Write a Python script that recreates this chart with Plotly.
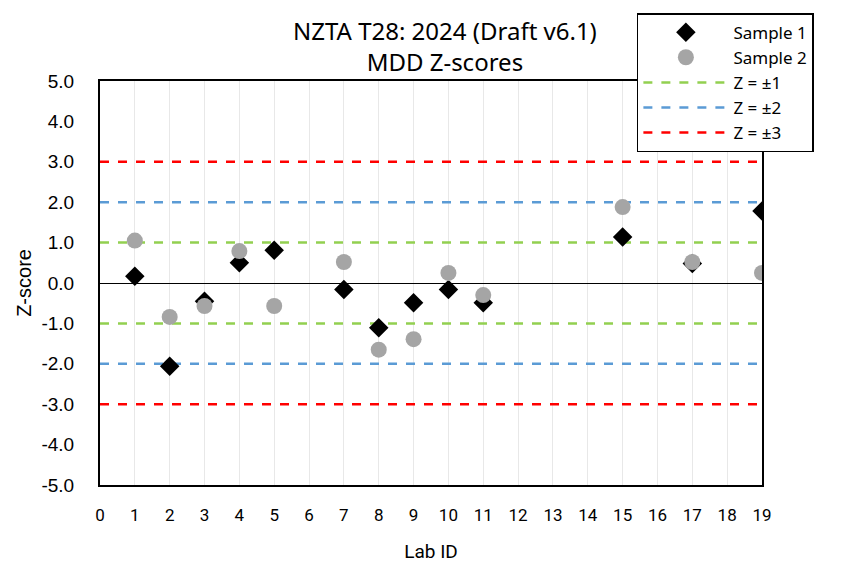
import plotly.graph_objects as go

lab_ids = [1, 2, 3, 4, 5, 7, 8, 9, 10, 11, 15, 17, 19]
sample1 = [0.17, -2.06, -0.45, 0.50, 0.81, -0.16, -1.11, -0.49, -0.16, -0.49, 1.14, 0.48, 1.78]
sample2 = [1.05, -0.84, -0.57, 0.79, -0.57, 0.52, -1.65, -1.39, 0.25, -0.30, 1.88, 0.52, 0.25]
limit_x = [0, 19]
z_levels = [1, 2, 3]
z_colors = ["#92D050", "#5B9BD5", "#FF0000"]
x_ticks = list(range(0, 20))
y_ticks = [-5, -4, -3, -2, -1, 0, 1, 2, 3, 4, 5]
y_ticktext = [f"{v:.1f}" for v in y_ticks]  # plain hyphen minus as in reference

fig = go.Figure()
for z, c in zip(z_levels, z_colors):
    for sgn in (1, -1):
        fig.add_trace(go.Scatter(x=limit_x, y=[sgn * z] * 2, mode="lines",
                                 name=f"Z = ±{z}", legendgroup=f"z{z}",
                                 showlegend=(sgn == 1), legendrank=2 + z,
                                 line=dict(color=c, width=2.5, dash="dash")))
fig.add_trace(go.Scatter(x=lab_ids, y=sample1, mode="markers", name="Sample 1", legendrank=1,
                         marker=dict(symbol="diamond", size=15, color="black")))
fig.add_trace(go.Scatter(x=lab_ids, y=sample2, mode="markers", name="Sample 2", legendrank=2,
                         marker=dict(symbol="circle", size=16, color="#A5A5A5")))

narrow = "Roboto, sans-serif"

fig.update_layout(
    width=841, height=566,
    margin=dict(l=100, r=79, t=81, b=81, autoexpand=False),
    paper_bgcolor="white", plot_bgcolor="white",
    title=dict(text="NZTA T28: 2024 (Draft v6.1)<br>MDD Z-scores", x=0.529, xanchor="center",
               y=0.93, yanchor="top",
               font=dict(family="Noto Sans", size=24, color="black")),
    legend=dict(x=0.811, y=1.168, xanchor="left", yanchor="top",
                bgcolor="white", bordercolor="black", borderwidth=1.5,
                font=dict(family="Noto Sans", size=17, color="black"),
                traceorder="normal", itemwidth=85, tracegroupgap=0),
    showlegend=True,
    annotations=[dict(text="Z-score", xref="paper", yref="paper", x=-0.115, y=0.5,
                      textangle=-90, showarrow=False, xanchor="center", yanchor="middle",
                      font=dict(family="Liberation Sans", size=20, color="black"))],
)
fig.update_xaxes(range=[0, 19], tickvals=x_ticks, showgrid=True, gridcolor="#E8E8E8",
                 showline=True, linecolor="black", linewidth=2, mirror=True,
                 zeroline=False, ticks="", automargin=False, ticklabelstandoff=14,
                 tickfont=dict(family=narrow, size=17, color="black"),
                 title=dict(text="Lab ID", standoff=20,
                            font=dict(family=narrow, size=19, color="black")))
fig.update_yaxes(range=[-5, 5], tickvals=y_ticks, ticktext=y_ticktext, showgrid=False,
                 showline=True, linecolor="black", linewidth=2, mirror=True,
                 zeroline=True, zerolinecolor="black", zerolinewidth=1, ticks="",
                 automargin=False, ticklabelstandoff=20,
                 tickfont=dict(family="Liberation Sans", size=19, color="black"))

fig.write_html("out.html", config={"displayModeBar": False},
               post_script="document.body.style.margin='0px';")
